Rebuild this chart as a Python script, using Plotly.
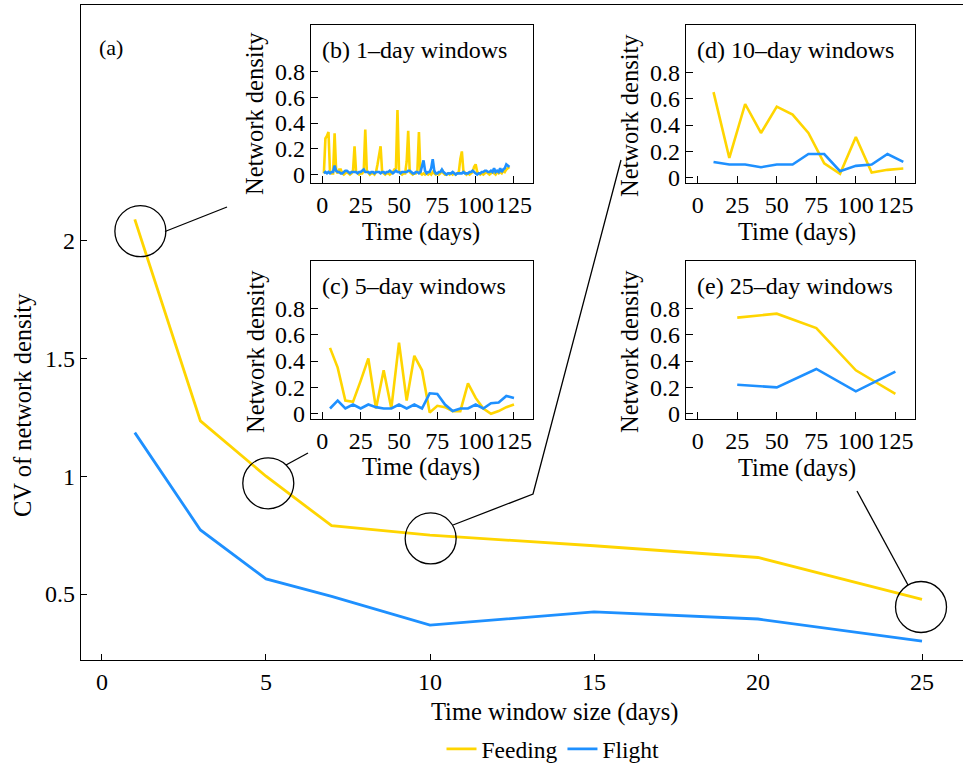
import plotly.graph_objects as go

# ---------------- data ----------------
window_sizes = [1, 3, 5, 7, 10, 15, 20, 25]
cv_feeding = [2.09, 1.235, 1.0, 0.79, 0.75, 0.705, 0.655, 0.477]
cv_flight = [1.185, 0.772, 0.564, 0.49, 0.368, 0.424, 0.394, 0.30]

days_1 = list(range(1, 123))
dens1_feeding = [
    0.01, 0.28, 0.30, 0.33, 0.02, 0.01, 0.01, 0.32, 0.03, 0.01,
    0.04, 0.04, 0.01, 0.00, 0.01, 0.02, 0.01, 0.00, 0.01, 0.03,
    0.22, 0.02, 0.01, 0.00, 0.01, 0.01, 0.03, 0.35, 0.03, 0.01,
    0.00, 0.01, 0.01, 0.00, 0.02, 0.08, 0.15, 0.22, 0.02, 0.01,
    0.00, 0.01, 0.01, 0.00, 0.01, 0.02, 0.04, 0.05, 0.50, 0.03,
    0.01, 0.00, 0.01, 0.01, 0.10, 0.34, 0.02, 0.01, 0.00, 0.01,
    0.01, 0.03, 0.33, 0.01, 0.00, 0.01, 0.00, 0.01, 0.00, 0.01,
    0.00, 0.02, 0.01, 0.00, 0.01, 0.00, 0.01, 0.04, 0.01, 0.00,
    0.00, 0.01, 0.00, 0.01, 0.00, 0.01, 0.00, 0.01, 0.02, 0.12,
    0.18, 0.03, 0.01, 0.00, 0.01, 0.00, 0.01, 0.02, 0.06, 0.08,
    0.02, 0.01, 0.00, 0.01, 0.00, 0.01, 0.02, 0.01, 0.00, 0.01,
    0.02, 0.01, 0.00, 0.02, 0.01, 0.02, 0.01, 0.03, 0.02, 0.04,
    0.05, 0.06,
]
dens1_flight = [
    0.01, 0.02, 0.01, 0.02, 0.01, 0.02, 0.02, 0.07, 0.03, 0.02,
    0.02, 0.01, 0.01, 0.02, 0.03, 0.03, 0.02, 0.01, 0.02, 0.02,
    0.02, 0.02, 0.01, 0.02, 0.02, 0.03, 0.04, 0.02, 0.02, 0.02,
    0.01, 0.02, 0.02, 0.01, 0.02, 0.02, 0.02, 0.01, 0.02, 0.02,
    0.01, 0.02, 0.02, 0.03, 0.02, 0.01, 0.02, 0.03, 0.02, 0.02,
    0.01, 0.02, 0.02, 0.02, 0.02, 0.03, 0.03, 0.02, 0.01, 0.01,
    0.02, 0.02, 0.01, 0.02, 0.06, 0.11, 0.03, 0.01, 0.02, 0.02,
    0.05, 0.12, 0.03, 0.01, 0.01, 0.02, 0.02, 0.04, 0.02, 0.01,
    0.00, 0.01, 0.01, 0.01, 0.02, 0.01, 0.00, 0.01, 0.01, 0.01,
    0.01, 0.02, 0.01, 0.01, 0.01, 0.02, 0.02, 0.03, 0.02, 0.01,
    0.00, 0.01, 0.01, 0.02, 0.02, 0.03, 0.03, 0.02, 0.02, 0.03,
    0.02, 0.05, 0.02, 0.03, 0.02, 0.05, 0.02, 0.04, 0.05, 0.08,
    0.07, 0.06,
]

days_5 = [5, 10, 15, 20, 25, 30, 35, 40, 45, 50, 55, 60, 65, 70, 75, 80,
          85, 90, 95, 100, 105, 110, 115, 120, 125]
dens5_feeding = [0.50, 0.35, 0.10, 0.09, 0.25, 0.42, 0.04, 0.33, 0.04, 0.54,
                 0.10, 0.44, 0.33, 0.01, 0.06, 0.05, 0.02, 0.02, 0.23, 0.12,
                 0.04, 0.00, 0.02, 0.05, 0.07]
dens5_flight = [0.04, 0.10, 0.04, 0.07, 0.04, 0.07, 0.05, 0.04, 0.04, 0.07,
                0.04, 0.07, 0.04, 0.155, 0.15, 0.07, 0.02, 0.04, 0.04, 0.07,
                0.04, 0.08, 0.085, 0.135, 0.12]

days_10 = [10, 20, 30, 40, 50, 60, 70, 80, 90, 100, 110, 120, 130]
dens10_feeding = [0.65, 0.15, 0.56, 0.34, 0.54, 0.48, 0.34, 0.11, 0.03, 0.31,
                  0.04, 0.06, 0.07]
dens10_flight = [0.12, 0.10, 0.10, 0.08, 0.10, 0.10, 0.18, 0.18, 0.05, 0.09,
                 0.10, 0.18, 0.12]

days_25 = [25, 50, 75, 100, 125]
dens25_feeding = [0.73, 0.76, 0.65, 0.33, 0.15]
dens25_flight = [0.22, 0.20, 0.34, 0.17, 0.32]

main_xticks = [0, 5, 10, 15, 20, 25]
main_yticks = [0.5, 1, 1.5, 2]
main_yticktext = ["0.5", "1", "1.5", "2"]
inset_xticks = [0, 25, 50, 75, 100, 125]
inset_yticks = [0, 0.2, 0.4, 0.6, 0.8]
inset_yticktext = ["0", "0.2", "0.4", "0.6", "0.8"]

# ---------------- style / layout ----------------
W, H = 963, 763
ML, MR, MT, MB = 81, 0, 5, 103
PW, PH = W - ML - MR, H - MT - MB
FEED = "#FFD500"
FLY = "#1E90FF"
FONT = "Liberation Serif"
FS_TICK = 24
FS_TITLE = 24.5


def px_x(p):
    return (p - ML) / PW


def px_y(p):
    return (H - MB - p) / PH


def txt(text, x, y, size, angle=0, xanchor="center"):
    return dict(text=text, x=px_x(x), y=px_y(y), xref="paper", yref="paper",
                xanchor=xanchor, yanchor="middle", showarrow=False, textangle=angle,
                font=dict(family=FONT, size=size, color="black"))


fig = go.Figure()

fig.add_trace(go.Scatter(x=window_sizes, y=cv_feeding, mode="lines", name="Feeding",
                         line=dict(color=FEED, width=2.8), xaxis="x", yaxis="y"))
fig.add_trace(go.Scatter(x=window_sizes, y=cv_flight, mode="lines", name="Flight",
                         line=dict(color=FLY, width=2.8), xaxis="x", yaxis="y"))

# idx, x, feeding, flight, frame box (l, t, r, b) px, y range, label,
# x-title centre px, y-title centre px
insets = [
    (2, days_1, dens1_feeding, dens1_flight, (311, 25, 533, 183), [-0.065, 1.16],
     "(b) 1–day windows", (421, 232), (255, 114)),
    (3, days_5, dens5_feeding, dens5_flight, (311, 261, 533, 419), [-0.04, 1.16],
     "(c) 5–day windows", (421, 467), (255, 352)),
    (4, days_10, dens10_feeding, dens10_flight, (686, 25, 915, 183), [-0.04, 1.16],
     "(d) 10–day windows", (797, 232), (629, 116)),
    (5, days_25, dens25_feeding, dens25_flight, (686, 261, 915, 419), [-0.04, 1.16],
     "(e) 25–day windows", (797, 468), (629, 352)),
]

annotations = [
    txt("(a)", 97, 47, 22, xanchor="left"),
    txt("Time window size (days)", 554, 712, FS_TITLE),
    txt("CV of network density", 22, 405, FS_TITLE, angle=-90),
]

layout_axes = {}
for idx, xs, f, fl, box, yr, label, xt, yt in insets:
    l, t, r, b = box
    layout_axes[f"xaxis{idx}"] = dict(
        domain=[px_x(l), px_x(r)], anchor=f"y{idx}", range=[-7.4, 137.4],
        tickvals=inset_xticks, ticks="inside", ticklen=7, tickcolor="black",
        showline=True, linecolor="black", linewidth=1.3, mirror=True,
        showgrid=False, zeroline=False,
        tickfont=dict(family=FONT, size=FS_TICK, color="black"))
    layout_axes[f"yaxis{idx}"] = dict(
        domain=[px_y(b), px_y(t)], anchor=f"x{idx}", range=yr,
        tickvals=inset_yticks, ticktext=inset_yticktext, ticks="inside", ticklen=7,
        tickcolor="black", showline=True, linecolor="black", linewidth=1.3, mirror=True,
        showgrid=False, zeroline=False,
        tickfont=dict(family=FONT, size=FS_TICK, color="black"))
    fig.add_trace(go.Scatter(x=xs, y=f, mode="lines", showlegend=False,
                             line=dict(color=FEED, width=2.6), xaxis=f"x{idx}", yaxis=f"y{idx}"))
    fig.add_trace(go.Scatter(x=xs, y=fl, mode="lines", showlegend=False,
                             line=dict(color=FLY, width=2.6), xaxis=f"x{idx}", yaxis=f"y{idx}"))
    annotations.append(txt(label, l + 9, t + 25, FS_TICK, xanchor="left"))
    annotations.append(txt("Time (days)", xt[0], xt[1], FS_TITLE))
    annotations.append(txt("Network density", yt[0], yt[1], FS_TITLE, angle=-90))

# circles (anchored to data points on the main axes, sized in pixels)
circle_centres = [(1.17, 2.04), (5.07, 0.97), (10.02, 0.736), (24.97, 0.445)]
shapes = []
R = 25.5
for cx, cy in circle_centres:
    shapes.append(dict(type="circle", xref="x", yref="y", xsizemode="pixel", ysizemode="pixel",
                       xanchor=cx, yanchor=cy, x0=-R, x1=R, y0=-R, y1=R,
                       line=dict(color="black", width=1.3)))

# connector lines (pixel positions -> paper)
connectors = [
    [(165, 231.5), (227, 207)],
    [(286, 465), (308, 453)],
    [(453, 525), (533, 494), (621, 160)],
    [(908, 585), (857, 491)],
]
for pts in connectors:
    path = "M " + " L ".join(f"{px_x(a)},{px_y(b)}" for a, b in pts)
    shapes.append(dict(type="path", path=path, xref="paper", yref="paper",
                       line=dict(color="black", width=1.3)))

fig.update_layout(
    width=W, height=H,
    margin=dict(l=ML, r=MR, t=MT, b=MB),
    paper_bgcolor="white", plot_bgcolor="white",
    font=dict(family=FONT, size=FS_TICK, color="black"),
    showlegend=True,
    legend=dict(orientation="h", xref="paper", yref="container",
                x=px_x(553), y=(H - 749) / H, xanchor="center", yanchor="middle",
                font=dict(family=FONT, size=23.5, color="black"), bgcolor="rgba(0,0,0,0)"),
    xaxis=dict(domain=[0, 1], anchor="y", range=[-0.64, 26.25], tickvals=main_xticks,
               ticks="inside", ticklen=6, tickcolor="black", showline=True, linecolor="black",
               linewidth=1.3, mirror=True, showgrid=False, zeroline=False,
               tickfont=dict(family=FONT, size=FS_TICK, color="black")),
    yaxis=dict(domain=[0, 1], anchor="x", range=[0.22, 3.0], tickvals=main_yticks,
               ticktext=main_yticktext, ticks="inside", ticklen=6, tickcolor="black",
               showline=True, linecolor="black", linewidth=1.3, mirror=False,
               showgrid=False, zeroline=False,
               tickfont=dict(family=FONT, size=FS_TICK, color="black")),
    shapes=shapes,
    annotations=annotations,
    **layout_axes,
)

fig.write_html("out.html")
